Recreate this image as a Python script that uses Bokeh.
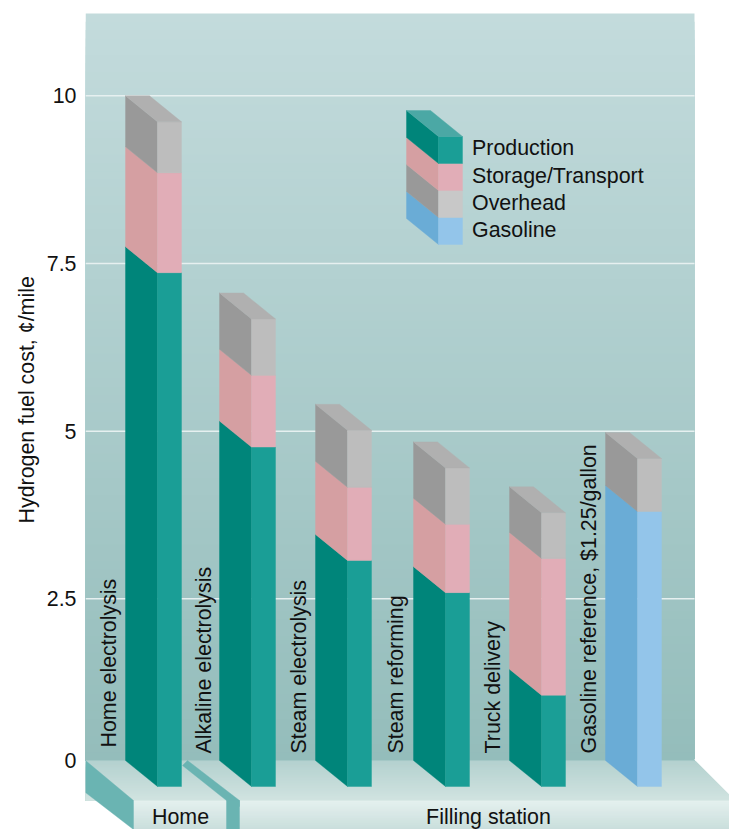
import numpy as np
from bokeh.plotting import figure
from bokeh.models import Range1d, FixedTicker, Title
from bokeh.core.properties import value
from bokeh.embed import file_html
from bokeh.resources import INLINE

# ---------- data ----------
categories = ["Home electrolysis", "Alkaline electrolysis", "Steam electrolysis",
              "Steam reforming", "Truck delivery", "Gasoline reference, $1.25/gallon"]
production = [7.75, 5.15, 3.46, 2.98, 1.45, 0.0]
storage = [1.49, 1.07, 1.09, 1.02, 2.04, 0.0]
overhead = [0.76, 0.84, 0.85, 0.84, 0.68, 0.79]
gasoline = [0.0, 0.0, 0.0, 0.0, 0.0, 4.19]
tick_values = [2.5, 5, 7.5, 10]
tick_labels = {2.5: "2.5", 5: "5", 7.5: "7.5", 10: "10"}
legend_labels = ["Production", "Storage/Transport", "Overhead", "Gasoline"]
group_labels = ["Home", "Filling station"]

# ---------- layout (page pixels) ----------
PX_PER_UNIT = 67.07
ZERO_PX = 766.0


def Y(px):
    return (ZERO_PX - px) / PX_PER_UNIT


FLOOR = Y(760)
DEPTH = 26 / PX_PER_UNIT
BAR_X = [125, 219, 315, 413, 509, 605]
SIDE_W, FRONT_W, TOP_W = 32, 24, 24
LABEL_X = [108, 203, 298, 395, 492, 588]
LABEL_BOTTOM = [747, 753, 753, 753, 753, 753]
FONT = value("Liberation Sans")
FS = "21.4px"

COL = {
    "prod": ("#00857a", "#1a9e96"),
    "stor": ("#d59fa2", "#e1adb7"),
    "over": ("#999999", "#bdbdbd"),
    "gas": ("#6aacd6", "#93c5ea"),
}
TOP_GRAY = "#b0b0b0"

p = figure(width=729, height=829, output_backend="svg", toolbar_location=None,
           x_range=Range1d(85, 729), y_range=Range1d(Y(829), Y(0)),
           min_border_left=85, min_border_right=0, min_border_top=0, min_border_bottom=0,
           outline_line_color=None, background_fill_color="white", border_fill_color="white")
p.xaxis.visible = False
p.xgrid.visible = False
p.ygrid.visible = False

ax = p.yaxis[0]
ax.ticker = FixedTicker(ticks=[FLOOR] + tick_values)
ax.major_label_overrides = {FLOOR: "0", **tick_labels}
ax.axis_line_color = None
ax.major_tick_line_color = None
ax.minor_tick_line_color = None
ax.major_tick_in = 0
ax.major_tick_out = 0
ax.major_label_standoff = 9
ax.major_label_text_font = "Liberation Sans"
ax.major_label_text_font_size = FS
ax.major_label_text_color = "#111111"

p.add_layout(Title(text="Hydrogen fuel cost, ¢/mile", align="left", offset=306, standoff=10,
                   text_font="Liberation Sans", text_font_size=FS, text_font_style="normal",
                   text_color="#111111"), "left")


def hex_mix(c0, c1, t):
    a = np.array([int(c0[i:i + 2], 16) for i in (1, 3, 5)])
    b = np.array([int(c1[i:i + 2], 16) for i in (1, 3, 5)])
    r = np.round(a + (b - a) * t).astype(int)
    return "#%02x%02x%02x" % tuple(r)


def gradient(x0, x1, y0, y1, c0, c1, n, level="glyph"):
    """Vertical gradient from page y0 to y1, as overlapping strips."""
    ps = np.linspace(y0, y1, n + 1)[:-1]
    p.quad(left=[x0] * n, right=[x1] * n, top=[Y(v) for v in ps], bottom=[Y(y1)] * n,
           fill_color=[hex_mix(c0, c1, i / (n - 1)) for i in range(n)],
           line_color=None, level=level)


def poly(xs, ys, color):
    p.patch(xs, ys, fill_color=color, line_color=color, line_width=0.4)


# wall
gradient(85, 694, 13, 760, "#c3dbdc", "#94bdbb", 90, level="image")
# gridlines on the wall only
n_ticks = len(tick_values)
p.segment(x0=[85] * n_ticks, x1=[694] * n_ticks, y0=tick_values, y1=tick_values,
          line_color="#e6f0f0", line_width=1.5, level="underlay")

# floor surface
gradient(85, 729, 760, 800, "#b4d1cf", "#d0e3e0", 25)
poly([694, 735, 735], [Y(759), Y(759), Y(800)], "white")
# front faces
gradient(133, 729, 800, 835, "#e4f0ee", "#c4dbd8", 20)
poly([85, 133, 133, 85], [Y(760), Y(800), Y(829), Y(792)], "#6ab4b2")
poly([182, 187, 239, 239, 226], [Y(765), Y(760), Y(800), Y(806), Y(800)], "#6ab4b2")
poly([226, 239, 239, 226], [Y(800), Y(800), Y(835), Y(835)], "#6ab4b2")


def draw_stack(x, levels, colors, top_color):
    """levels: rising values (floor first); colors: per segment (side, front)."""
    xb, xf, xr = x, x + SIDE_W, x + SIDE_W + FRONT_W
    for lo, hi, (cs, cf) in zip(levels[:-1], levels[1:], colors):
        if hi <= lo:
            continue
        poly([xb, xf, xf, xb], [lo, lo - DEPTH, hi - DEPTH, hi], cs)
        poly([xf, xr, xr, xf], [lo - DEPTH, lo - DEPTH, hi - DEPTH, hi - DEPTH], cf)
    t = levels[-1]
    poly([xb, xb + TOP_W, xr, xf], [t, t, t - DEPTH, t - DEPTH], top_color)


for i, x in enumerate(BAR_X):
    if gasoline[i] > 0:
        levels = [FLOOR, gasoline[i], gasoline[i] + overhead[i]]
        colors = [COL["gas"], COL["over"]]
    else:
        a = production[i]
        b = a + storage[i]
        c = b + overhead[i]
        levels = [FLOOR, a, b, c]
        colors = [COL["prod"], COL["stor"], COL["over"]]
    draw_stack(x, levels, colors, TOP_GRAY)

# category labels
p.text(x=LABEL_X, y=[Y(v) for v in LABEL_BOTTOM], text=categories, angle=np.pi / 2,
       text_font=FONT, text_font_size=FS, text_color="#111111",
       text_align="left", text_baseline="middle")

# legend swatch (a small stacked block)
leg_top = Y(110)
leg_h = 27 / PX_PER_UNIT
leg_levels = [leg_top - leg_h * k for k in range(4, -1, -1)]
draw_stack(406, leg_levels, [COL["gas"], ("#999999", "#c8c8c8"), COL["stor"], COL["prod"]], "#4ba8a5")
p.text(x=[471.5] * 4, y=[Y(v) for v in (147.5, 175.5, 202.5, 229.5)], text=legend_labels,
       text_font=FONT, text_font_size=FS, text_color="#111111",
       text_align="left", text_baseline="middle")

# group labels
p.text(x=[180, 488], y=[Y(816)] * 2, text=group_labels,
       text_font=FONT, text_font_size=FS, text_color="#111111",
       text_align="center", text_baseline="middle")

open("out.html", "w").write(file_html(p, INLINE))
